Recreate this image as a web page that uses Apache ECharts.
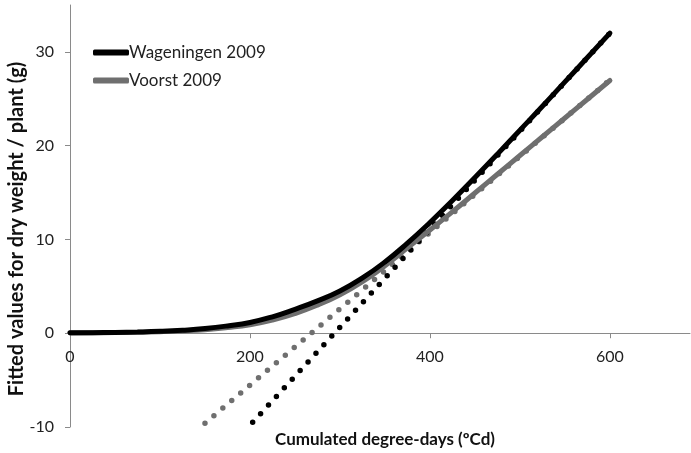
<!DOCTYPE html>
<html>
<head>
<meta charset="utf-8">
<script src="https://cdn.jsdelivr.net/npm/echarts@6/dist/echarts.min.js"></script>
<style>
  html, body { margin: 0; padding: 0; background: #fff; }
  #chart { width: 691px; height: 453px; }
</style>
</head>
<body>
<div id="chart"></div>
<script>
// degree-days sampled every 25 units
var degreeDays = [0, 25, 50, 75, 100, 125, 150, 175, 200, 225, 250, 275, 300,
                  325, 350, 375, 400, 425, 450, 475, 500, 525, 550, 575, 600];
// fitted dry weight (g)
var wageningen = [0.04, 0.06, 0.09, 0.13, 0.2, 0.32, 0.5, 0.78, 1.15, 1.75, 2.55, 3.45, 4.5,
                  5.9, 7.6, 9.6, 11.8, 14.15, 16.6, 19.1, 21.65, 24.2, 26.8, 29.4, 32.0];
var voorst = [0.03, 0.05, 0.07, 0.1, 0.16, 0.25, 0.38, 0.6, 0.9, 1.4, 2.1, 3.0, 4.1,
              5.5, 7.2, 9.1, 11.0, 12.95, 14.95, 16.95, 18.95, 20.95, 22.95, 24.95, 26.95];
// linear asymptotes (start / end points)
var wageningenLine = [[203, -9.5], [600, 32]];
var voorstLine = [[150, -9.6], [600, 27]];

var xTicks = [0, 200, 400, 600];
var yTicks = [-10, 0, 10, 20, 30];

function pairs(xs, ys) {
    var out = [];
    for (var i = 0, len = xs.length; i < len; i++) {
        out.push([xs[i], ys[i]]);
    }
    return out;
}

var font = 'Lato, "DejaVu Sans", sans-serif';
var gridTop = 5, gridBottom = 26, chartH = 453;
var yMin = yTicks[0], yMax = 35;
// pixel distance from the bottom of the plot up to y = 0
var plotH = chartH - gridTop - gridBottom;
var zeroOffset = plotH * (0 - yMin) / (yMax - yMin);

var chart = echarts.init(document.getElementById('chart'));

var option = {
    animation: false,
    backgroundColor: '#fff',
    grid: { left: 70, right: 1, top: gridTop, bottom: gridBottom, containLabel: false },
    legend: {
        orient: 'vertical',
        left: 88,
        top: 39,
        itemWidth: 36,
        itemHeight: 6,
        itemGap: 11,
        icon: 'roundRect',
        data: ['Wageningen 2009', 'Voorst 2009'],
        textStyle: { fontFamily: font, fontSize: 17, color: '#222', padding: [0, 0, 0, -5] }
    },
    xAxis: {
        type: 'value',
        min: xTicks[0],
        max: 689,
        interval: 200,
        offset: -zeroOffset,
        splitLine: { show: false },
        axisLine: { onZero: false, lineStyle: { color: '#8a8a8a', width: 1 } },
        axisTick: { show: true, length: 5, lineStyle: { color: '#8a8a8a' } },
        axisLabel: {
            margin: 16, showMaxLabel: false,
            fontFamily: font, fontSize: 16, color: '#222'
        }
    },
    yAxis: {
        type: 'value',
        min: yMin,
        max: yMax,
        interval: 10,
        splitLine: { show: false },
        axisLine: { show: true, lineStyle: { color: '#8a8a8a', width: 1 } },
        axisTick: { show: true, length: 5, lineStyle: { color: '#8a8a8a' } },
        axisLabel: {
            margin: 16, showMaxLabel: false,
            fontFamily: font, fontSize: 16, color: '#222'
        }
    },
    graphic: [
        {
            type: 'text', x: 17, y: 229, rotation: Math.PI / 2,
            style: {
                text: 'Fitted values for dry weight / plant (g)',
                font: 'bold 20px ' + font, fill: '#111',
                align: 'center', verticalAlign: 'middle'
            }
        },
        {
            type: 'text', x: 385, y: 440,
            style: {
                text: 'Cumulated degree-days (ºCd)',
                font: 'bold 17px ' + font, fill: '#111',
                align: 'center', verticalAlign: 'middle'
            }
        }
    ],
    series: [
        {
            name: 'Voorst asymptote', type: 'line', z: 1,
            data: voorstLine, showSymbol: false, silent: true,
            lineStyle: { color: '#6f6f6f', width: 5.5, type: [0, 11.7], cap: 'round' }
        },
        {
            name: 'Wageningen asymptote', type: 'line', z: 1,
            data: wageningenLine, showSymbol: false, silent: true,
            lineStyle: { color: '#000', width: 5.5, type: [0, 11.7], cap: 'round' }
        },
        {
            name: 'Voorst 2009', type: 'line', z: 2,
            data: pairs(degreeDays, voorst), smooth: true, showSymbol: false,
            itemStyle: { color: '#6f6f6f' },
            lineStyle: { color: '#6f6f6f', width: 5, cap: 'round' }
        },
        {
            name: 'Wageningen 2009', type: 'line', z: 3,
            data: pairs(degreeDays, wageningen), smooth: true, showSymbol: false,
            itemStyle: { color: '#000' },
            lineStyle: { color: '#000', width: 5, cap: 'round' }
        }
    ]
};

chart.setOption(option);
</script>
</body>
</html>
